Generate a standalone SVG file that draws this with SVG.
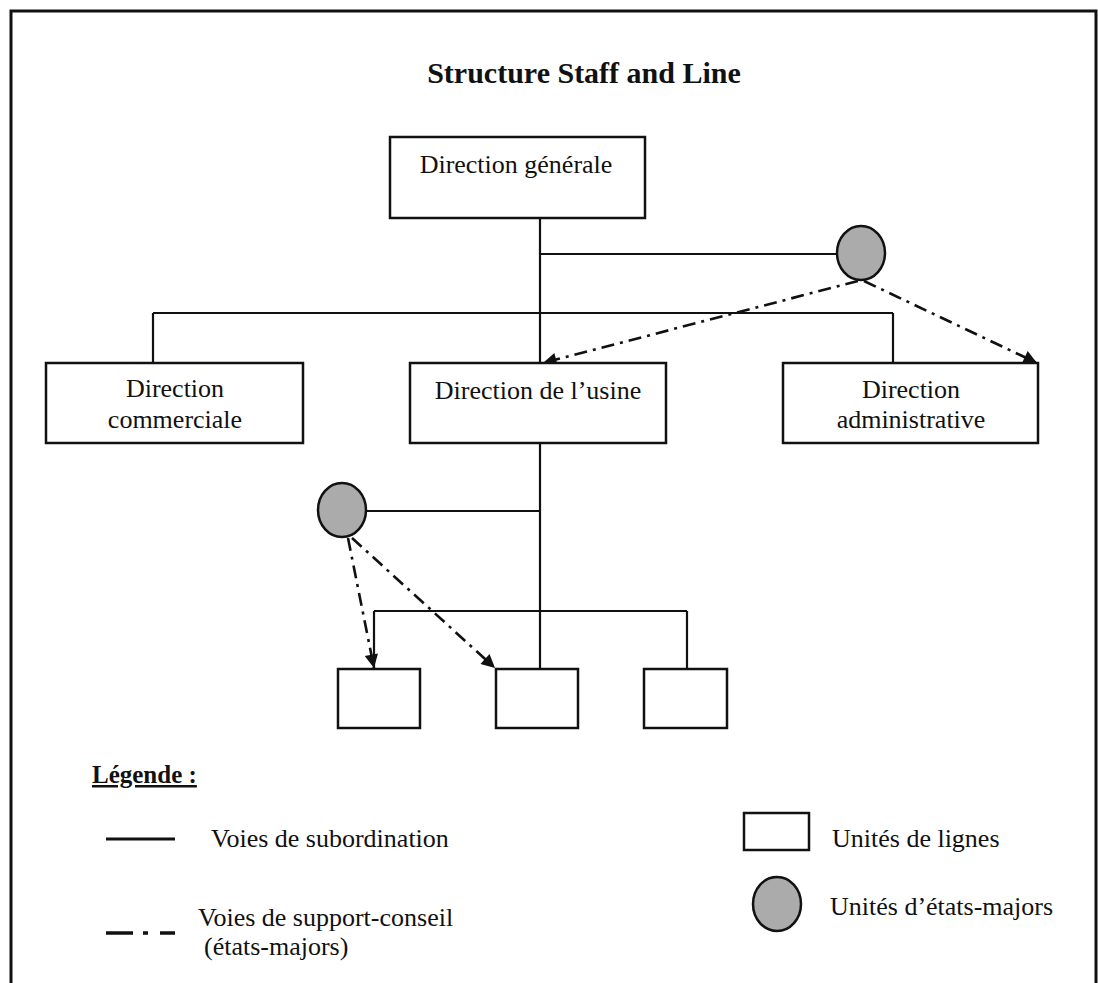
<svg xmlns="http://www.w3.org/2000/svg" width="1098" height="983" viewBox="0 0 1098 983">
<style>
.t{font-family:"Liberation Serif","Times New Roman",serif;font-size:26px;fill:#111}
.c{text-anchor:middle}
.b{font-weight:bold}
.box{fill:#fff;stroke:#111;stroke-width:2.5}
.staff{fill:#ababab;stroke:#111;stroke-width:2.5}
.ln{fill:none;stroke:#111;stroke-width:2.2}
.dd{fill:none;stroke:#111;stroke-width:2.6;stroke-dasharray:13 6 3 6}
</style>
<defs>
<marker id="ah" viewBox="0 0 10 10" refX="10" refY="5" markerWidth="6.5" markerHeight="5.2" orient="auto" markerUnits="strokeWidth">
<path d="M0,0 L10,5 L0,10 z" fill="#111"/>
</marker>
</defs>
<rect x="11" y="11" width="1085" height="1000" fill="#fff" stroke="#111" stroke-width="3"/>
<text class="t b c" x="584" y="83" style="font-size:30px">Structure Staff and Line</text>

<g id="connectors">
<line class="ln" x1="540" y1="218" x2="540" y2="363"/>
<line class="ln" x1="540" y1="254" x2="837" y2="254"/>
<line class="ln" x1="153" y1="313" x2="893" y2="313"/>
<line class="ln" x1="153" y1="313" x2="153" y2="363"/>
<line class="ln" x1="893" y1="313" x2="893" y2="363"/>
<line class="ln" x1="540" y1="443" x2="540" y2="669"/>
<line class="ln" x1="366" y1="511" x2="540" y2="511"/>
<line class="ln" x1="374" y1="611" x2="687" y2="611"/>
<line class="ln" x1="374" y1="611" x2="374" y2="669"/>
<line class="ln" x1="687" y1="611" x2="687" y2="669"/>
<line class="dd" x1="858" y1="281" x2="543" y2="363" marker-end="url(#ah)"/>
<line class="dd" x1="864" y1="281" x2="1037" y2="363" marker-end="url(#ah)"/>
<line class="dd" x1="348" y1="538" x2="374" y2="668" marker-end="url(#ah)"/>
<line class="dd" x1="352" y1="538" x2="495" y2="668" marker-end="url(#ah)"/>
</g>

<g id="direction-generale">
<rect class="box" x="390" y="137" width="255" height="81"/>
<text class="t c" x="516" y="173">Direction générale</text>
</g>
<g id="staff-top">
<ellipse class="staff" cx="861" cy="253" rx="24" ry="27"/>
</g>
<g id="direction-commerciale">
<rect class="box" x="46" y="363" width="257" height="80"/>
<text class="t c" x="175" y="397">Direction</text>
<text class="t c" x="175" y="428">commerciale</text>
</g>
<g id="direction-usine">
<rect class="box" x="410" y="363" width="256" height="80"/>
<text class="t c" x="538" y="399">Direction de l’usine</text>
</g>
<g id="direction-administrative">
<rect class="box" x="783" y="363" width="255" height="80"/>
<text class="t c" x="911" y="398">Direction</text>
<text class="t c" x="911" y="428">administrative</text>
</g>
<g id="staff-usine">
<ellipse class="staff" cx="342" cy="510" rx="24" ry="27"/>
</g>
<g id="unit-1"><rect class="box" x="338" y="669" width="82" height="59"/></g>
<g id="unit-2"><rect class="box" x="496" y="669" width="82" height="59"/></g>
<g id="unit-3"><rect class="box" x="644" y="669" width="83" height="59"/></g>

<g id="legend">
<text class="t b" x="92" y="783" style="font-size:25px" text-decoration="underline">Légende :</text>
<line x1="106" y1="839" x2="175" y2="839" stroke="#111" stroke-width="3"/>
<text class="t" x="211" y="847">Voies de subordination</text>
<line x1="106" y1="933" x2="175" y2="933" stroke="#111" stroke-width="3.5" stroke-dasharray="27 10 5 12 21"/>
<text class="t" x="198" y="926">Voies de support-conseil</text>
<text class="t" x="204" y="955">(états-majors)</text>
<rect class="box" x="744" y="813" width="65" height="37"/>
<text class="t" x="832" y="847">Unités de lignes</text>
<ellipse class="staff" cx="777" cy="904" rx="24" ry="27"/>
<text class="t" x="830" y="915">Unités d’états-majors</text>
</g>
</svg>
